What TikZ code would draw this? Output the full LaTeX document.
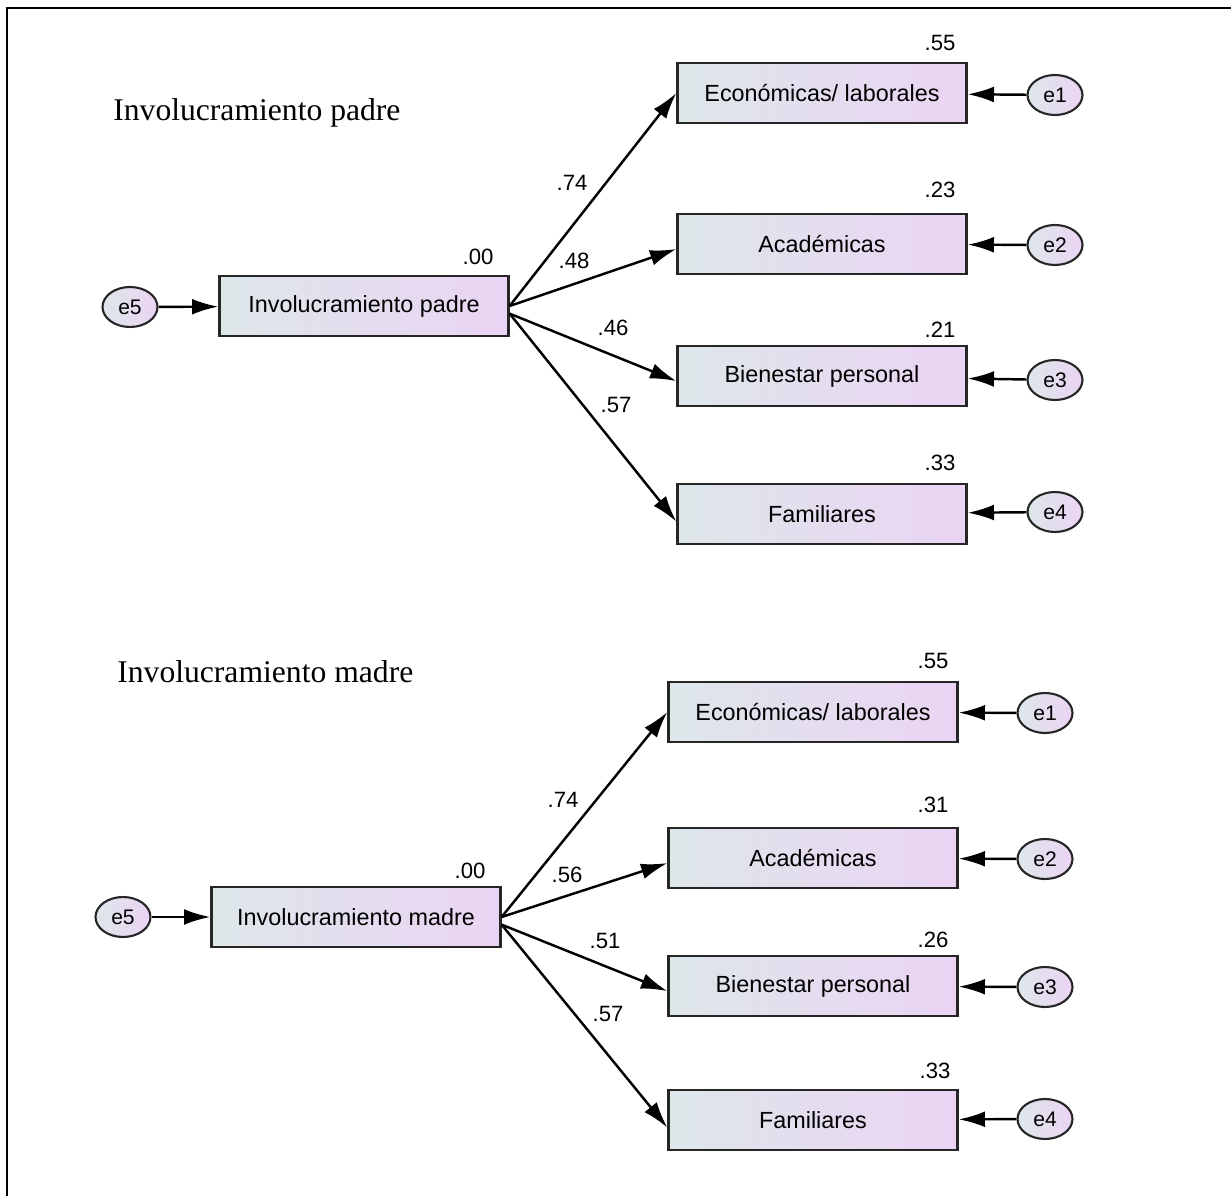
\documentclass[tikz,border=0pt]{standalone}
\usepackage{fontspec}
\setmainfont{Liberation Serif}
\setsansfont{Liberation Sans}
\usetikzlibrary{arrows.meta,shapes.geometric}
\definecolor{boxl}{RGB}{221,231,234}
\definecolor{boxr}{RGB}{235,212,243}

\begin{document}
\begin{tikzpicture}[x=0.02cm,y=-0.02cm]
        \tikzstyle{obs} = [draw=black!85,line width=1.3pt,left color=boxl,right color=boxr,minimum width=5.78cm,minimum height=1.2cm,inner sep=0pt,font=\sffamily\fontsize{13.3}{16}\selectfont]
        \tikzstyle{err} = [draw=black!85,line width=1.2pt,ellipse,left color=boxl,right color=boxr,minimum width=1.1cm,minimum height=0.8cm,inner sep=0pt,font=\sffamily\fontsize{12}{14}\selectfont]
        \tikzstyle{num} = [inner sep=0pt,font=\sffamily\fontsize{12.6}{14}\selectfont]
        \tikzstyle{title} = [anchor=west,inner sep=0pt,font=\fontsize{18}{20}\selectfont]
        \tikzstyle{arr} = [-{Latex[length=15pt,width=9pt]},line width=1.4pt]
        \useasboundingbox (0,0) rectangle (1231,1196);
        \draw[line width=1.7pt] (1231,8) -- (7,8) -- (7,1196);

        % padre
        \node[title] (tp) at (113,113) {Involucramiento padre};
        \node[obs] (pp) at (364,306) {Involucramiento padre};
        \node[err] (pe5) at (130,307) {e5};
        \foreach \l/\t/\y in {p1/{Económicas/ laborales}/93, p2/Académicas/244,
          p3/Bienestar personal/376, p4/Familiares/514} {
          \node[obs] (\l) at (822,\y) {\t};
        }
        \foreach \l/\y/\e in {pe1/95/e1, pe2/245/e2, pe3/380/e3, pe4/512/e4} {
          \node[err] (\l) at (1055,\y) {\e};
        }
        \foreach \n/\x/\y/\v in {r0/478/257/.00, r1/940/43/.55, r2/940/190/.23, r3/940/330/.21, r4/940/463/.33,
          c1/572/183/.74, c2/574/261/.48, c3/613/328/.46, c4/616/405/.57} {
          \node[num] (p\n) at (\x,\y) {\v};
        }
        \draw[arr] (pe5) -- (pp);
        \foreach \a/\b in {pe1/p1, pe2/p2, pe3/p3, pe4/p4} {
          \draw[arr] (\a) -- (\b);
        }
        \draw[arr] (pp.east) -- (p1.west);
        \draw[arr] (pp.east) -- (p2.182);
        \draw[arr] (pp.-3) -- (p3.182);
        \draw[arr] (pp.-3) -- (p4.183);

        % madre
        \node[title] (tm) at (117,672) {Involucramiento madre};
        \node[obs] (mm) at (356,917) {Involucramiento madre};
        \node[err] (me5) at (123,917) {e5};
        \foreach \l/\t/\y in {m1/{Económicas/ laborales}/712, m2/Académicas/858,
          m3/Bienestar personal/986, m4/Familiares/1120} {
          \node[obs] (\l) at (813,\y) {\t};
        }
        \foreach \l/\y/\e in {me1/713/e1, me2/859/e2, me3/987/e3, me4/1119/e4} {
          \node[err] (\l) at (1045,\y) {\e};
        }
        \foreach \n/\x/\y/\v in {r0/470/871/.00, r1/933/661/.55, r2/933/805/.31, r3/933/940/.26, r4/935/1071/.33,
          c1/563/800/.74, c2/567/875/.56, c3/605/941/.51, c4/608/1014/.57} {
          \node[num] (m\n) at (\x,\y) {\v};
        }
        \draw[arr] (me5) -- (mm);
        \foreach \a/\b in {me1/m1, me2/m2, me3/m3, me4/m4} {
          \draw[arr] (\a) -- (\b);
        }
        \draw[arr] (mm.east) -- (m1.west);
        \draw[arr] (mm.east) -- (m2.182);
        \draw[arr] (mm.-3) -- (m3.182);
        \draw[arr] (mm.-3) -- (m4.183);
\end{tikzpicture}
\end{document}
